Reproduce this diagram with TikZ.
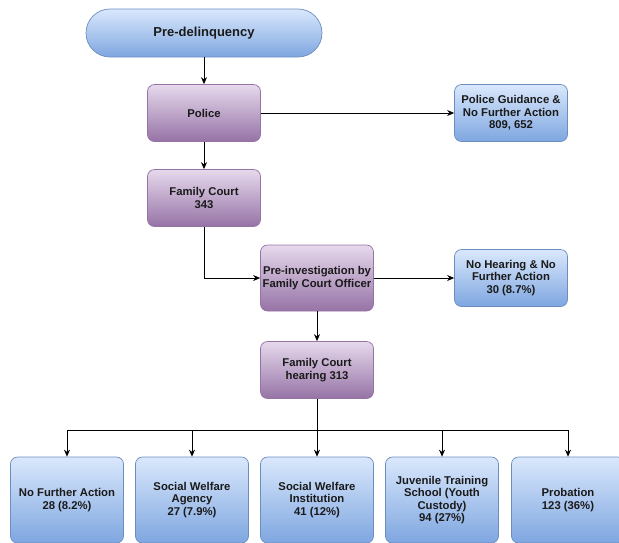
\documentclass[tikz,border=0pt]{standalone}
\usepackage{fontspec}
\setmainfont{Liberation Sans}
\usetikzlibrary{arrows.meta,positioning}
\definecolor{bluetop}{HTML}{DAE8FC}
\definecolor{bluebot}{HTML}{7EA6E0}
\definecolor{blueline}{HTML}{6C8EBF}
\definecolor{purptop}{HTML}{E6D9EC}
\definecolor{purpbot}{HTML}{9673A6}
\definecolor{purpline}{HTML}{9673A6}
\definecolor{txt}{HTML}{1A1A1A}
\tikzset{
  base/.style={rounded corners=7pt, line width=0.7pt, align=center,
    font=\fontsize{11.3}{12.5}\selectfont\bfseries, text=txt, inner sep=1pt},
  bluebox/.style={base, draw=blueline, top color=bluetop, bottom color=bluebot,
    minimum width=113pt, minimum height=57pt},
  purpbox/.style={base, draw=purpline, top color=purptop, bottom color=purpbot,
    minimum width=113pt, minimum height=57pt},
  pill/.style={base, draw=blueline, top color=bluetop, bottom color=bluebot,
    rounded corners=24pt, minimum width=236pt, minimum height=48pt,
    font=\fontsize{13}{15}\selectfont\bfseries},
  outbox/.style={bluebox, minimum height=86pt},
  arr/.style={-{Stealth[length=7pt,width=6pt]}, line width=0.8pt, black},
  ln/.style={line width=0.8pt, black}
}
\begin{document}
\begin{tikzpicture}[x=1pt,y=-1pt]
\useasboundingbox (0,0) rectangle (619,542);
\node[pill] (pre) at (204,33) {Pre-delinquency};
\node[purpbox] (police) at (204,113) {Police};
\node[bluebox] (pg) at (511,113) {Police Guidance \&\\No Further Action\\809, 652};
\node[purpbox] (fc) at (204,198) {Family Court\\343};
\node[purpbox, minimum height=66pt] (pi) at (317,278) {Pre-investigation by\\Family Court Officer};
\node[bluebox] (nh) at (511,278) {No Hearing \& No\\Further Action\\30 (8.7\%)};
\node[purpbox] (fch) at (317,370) {Family Court\\hearing 313};
\node[outbox] (b1) at (67,500) {No Further Action\\28 (8.2\%)};
\node[outbox] (b2) at (192,500) {Social Welfare\\Agency\\27 (7.9\%)};
\node[outbox] (b3) at (317,500) {Social Welfare\\Institution\\41 (12\%)};
\node[outbox] (b4) at (442,500) {Juvenile Training\\School (Youth\\Custody)\\94 (27\%)};
\node[outbox] (b5) at (568,500) {Probation\\123 (36\%)};
\coordinate (split) at (317,430);
\draw[arr] (pre) -- (police);
\draw[arr] (police) -- (pg);
\draw[arr] (police) -- (fc);
\draw[arr] (fc.south) |- (pi.west);
\draw[arr] (pi) -- (nh);
\draw[arr] (pi) -- (fch);
\draw[arr] (fch) -- (b3);
\draw[arr] (split) -| (b1.north);
\draw[arr] (split) -| (b2.north);
\draw[arr] (split) -| (b4.north);
\draw[arr] (split) -| (b5.north);
\end{tikzpicture}
\end{document}
